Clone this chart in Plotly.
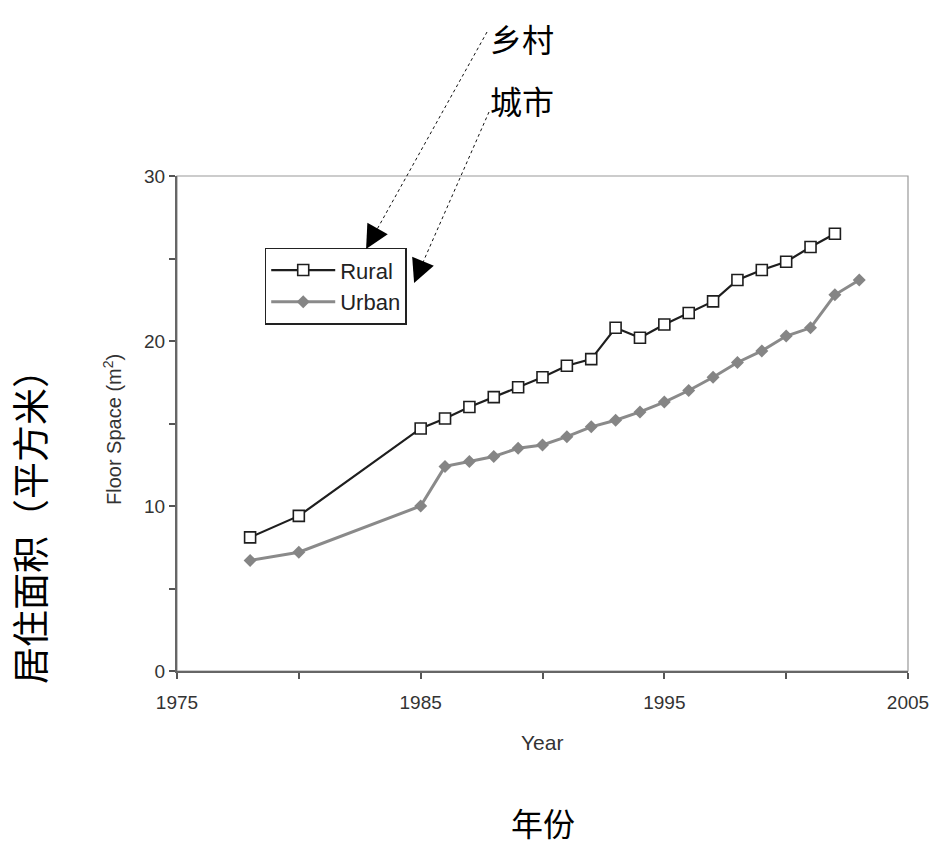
import plotly.graph_objects as go

rural_years = [1978, 1980, 1985, 1986, 1987, 1988, 1989, 1990, 1991, 1992, 1993,
               1994, 1995, 1996, 1997, 1998, 1999, 2000, 2001, 2002]
rural_space = [8.1, 9.4, 14.7, 15.3, 16.0, 16.6, 17.2, 17.8, 18.5, 18.9, 20.8,
               20.2, 21.0, 21.7, 22.4, 23.7, 24.3, 24.8, 25.7, 26.5]

urban_years = [1978, 1980, 1985, 1986, 1987, 1988, 1989, 1990, 1991, 1992, 1993,
               1994, 1995, 1996, 1997, 1998, 1999, 2000, 2001, 2002, 2003]
urban_space = [6.7, 7.2, 10.0, 12.4, 12.7, 13.0, 13.5, 13.7, 14.2, 14.8, 15.2,
               15.7, 16.3, 17.0, 17.8, 18.7, 19.4, 20.3, 20.8, 22.8, 23.7]

x_tickvals = [1975, 1980, 1985, 1990, 1995, 2000, 2005]
x_ticktext = ["1975", "", "1985", "", "1995", "", "2005"]
y_tickvals = [0, 5, 10, 15, 20, 25, 30]
y_ticktext = ["0", "", "10", "", "20", "", "30"]

FONT = "Liberation Sans, Arial, sans-serif"
CJK = "Noto Sans CJK SC"

fig = go.Figure()
fig.add_trace(go.Scatter(
    x=rural_years, y=rural_space, name="Rural", mode="lines+markers",
    line=dict(color="#1e1e1e", width=2.2),
    marker=dict(symbol="square", size=11, color="white",
                line=dict(color="#1e1e1e", width=1.6)),
))
fig.add_trace(go.Scatter(
    x=urban_years, y=urban_space, name="Urban", mode="lines+markers",
    line=dict(color="#8a8a8a", width=3),
    marker=dict(symbol="diamond", size=10, color="#858585"),
))

fig.update_layout(
    width=931, height=845, autosize=False,
    margin=dict(l=177, r=23, t=176, b=174, pad=0),
    paper_bgcolor="white", plot_bgcolor="white",
    font=dict(family=FONT, color="#333333"),
    showlegend=True,
    legend=dict(x=0.12, y=0.855, xanchor="left", yanchor="top",
                bordercolor="#222222", borderwidth=1.5, bgcolor="white",
                font=dict(size=22, color="#222222", family=FONT),
                itemwidth=64, tracegroupgap=0),
    xaxis=dict(range=[1975, 2005], tickvals=x_tickvals, ticktext=x_ticktext,
               automargin=False, ticklabelstandoff=7,
               ticks="outside", ticklen=6, tickcolor="#555555", tickwidth=1.5,
               showline=True, linecolor="#666666", linewidth=2,
               showgrid=False, zeroline=False,
               tickfont=dict(size=19, color="#333333")),
    yaxis=dict(range=[0, 30], tickvals=y_tickvals, ticktext=y_ticktext,
               automargin=False,
               ticks="outside", ticklen=6, tickcolor="#555555", tickwidth=1.5,
               showline=True, linecolor="#666666", linewidth=2,
               showgrid=False, zeroline=False,
               tickfont=dict(size=19, color="#333333")),
)

# frame (top / right border)
fig.add_shape(type="rect", xref="paper", yref="paper", x0=0, y0=0, x1=1, y1=1,
              line=dict(color="#999999", width=1.2), layer="below")

# dotted leader lines
fig.add_shape(type="line", xref="paper", yref="paper",
              x0=0.4241, y0=1.2909, x1=0.2600, y1=0.8560,
              line=dict(color="#111111", width=1, dash="dot"))
fig.add_shape(type="line", xref="paper", yref="paper",
              x0=0.4268, y0=1.1293, x1=0.3250, y1=0.7870,
              line=dict(color="#111111", width=1, dash="dot"))

# arrowheads
fig.add_annotation(x=1982.76, y=25.58, xref="x", yref="y", text="",
                   showarrow=True, arrowhead=2, arrowsize=2.6, arrowwidth=1.8,
                   arrowcolor="black", ax=9, ay=-16)
fig.add_annotation(x=1984.73, y=23.52, xref="x", yref="y", text="",
                   showarrow=True, arrowhead=2, arrowsize=2.6, arrowwidth=1.8,
                   arrowcolor="black", ax=7, ay=-17)

def label(px, py, text, size, family, color="black", angle=0):
    fig.add_annotation(x=(px - 177) / 731, y=(671 - py) / 495,
                       xref="paper", yref="paper", xanchor="center", yanchor="middle",
                       text=text, showarrow=False, textangle=angle,
                       font=dict(family=family, size=size, color=color))

# Chinese labels
label(522, 38, "乡村", 32, CJK)
label(522, 100, "城市", 32, CJK)
label(543, 822, "年份", 32, CJK)
label(29, 518, "居住面积（平方米）", 37, CJK, angle=-90)

# English axis titles
label(542, 742, "Year", 21, FONT, "#333333")
label(112, 430, "Floor Space (m<sup>2</sup>)", 20, FONT, "#333333", angle=-90)

fig.write_html("out.html")
